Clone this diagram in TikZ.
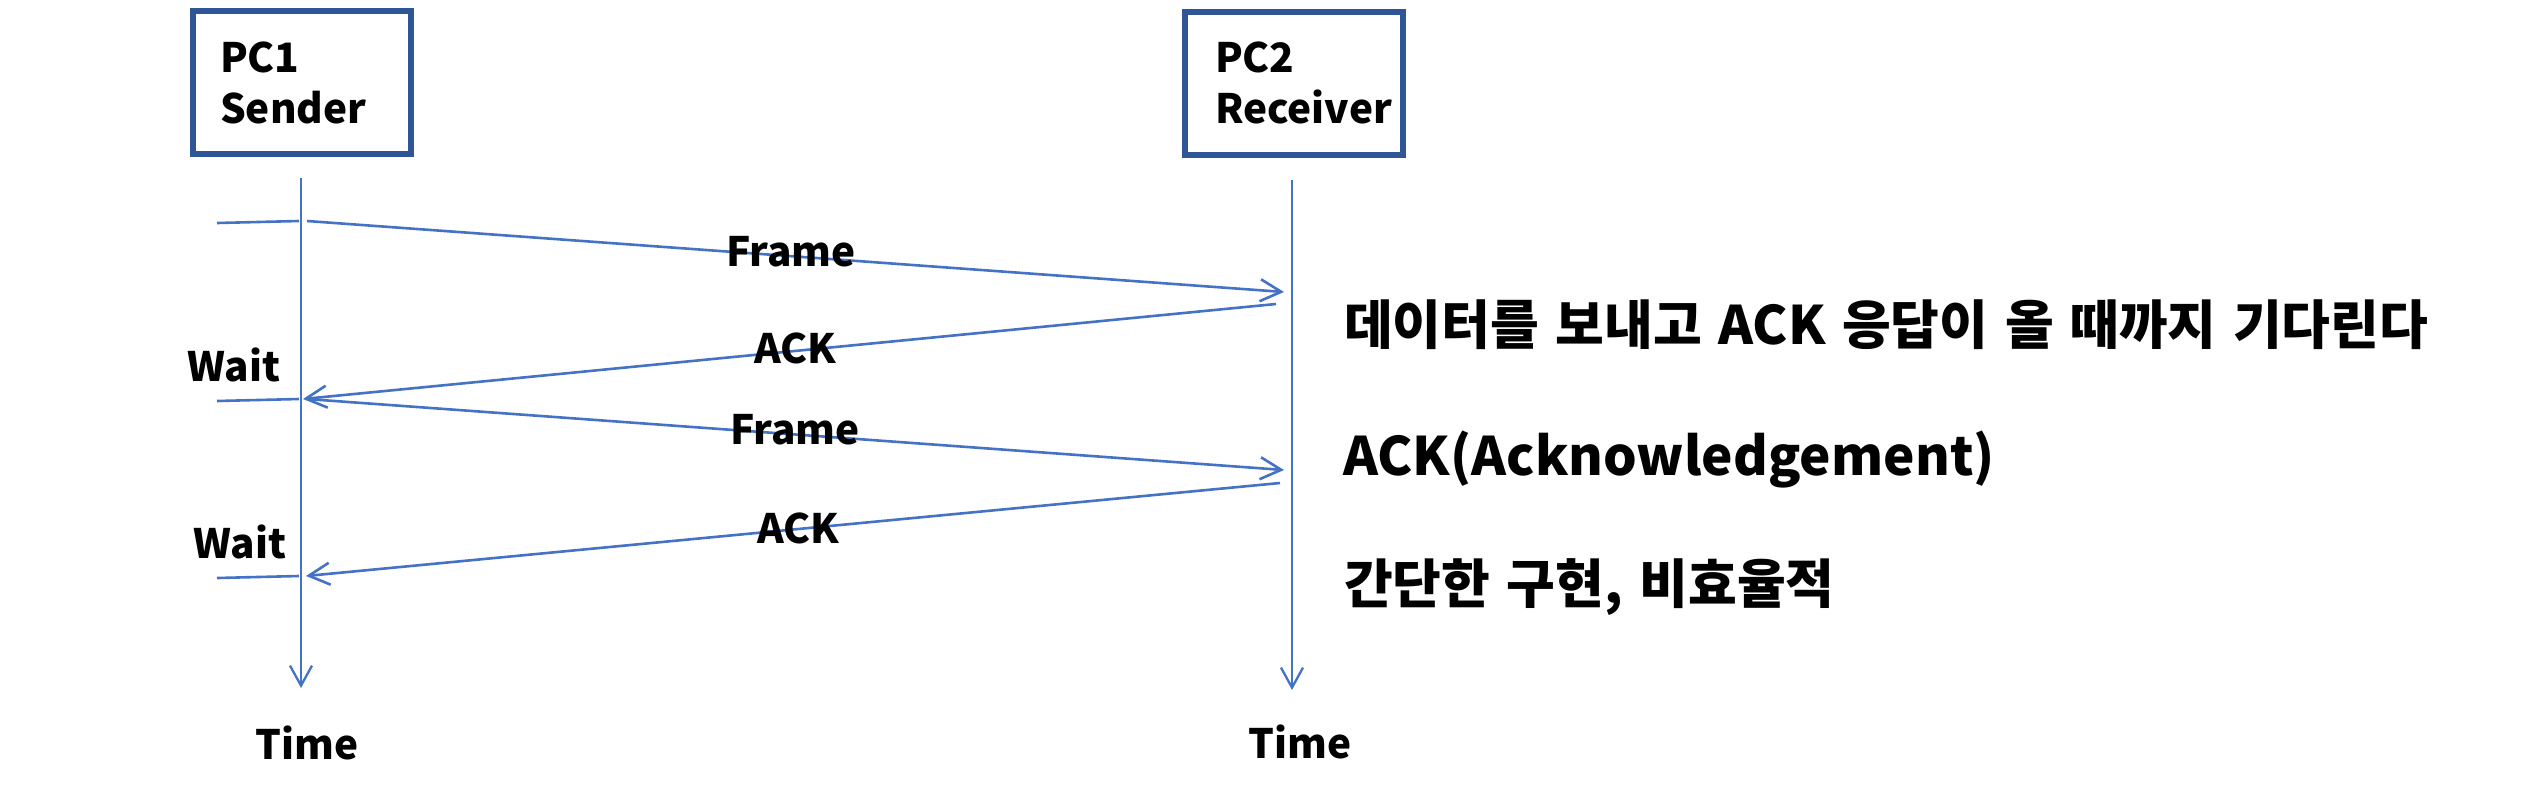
\documentclass[tikz,border=0pt]{standalone}
\usepackage{fontspec}
\setmainfont{Noto Sans CJK KR}
\usetikzlibrary{arrows.meta}
\definecolor{boxblue}{RGB}{47,85,151}
\definecolor{lineblue}{RGB}{68,114,196}
\newcommand{\widesp}{\spaceskip=16.5pt\relax}
\begin{document}
\begin{tikzpicture}[x=1pt,y=-1pt,
  every node/.style={font=\bfseries\fontsize{40.5}{51}\selectfont, inner sep=0pt, text=black},
  pcbox/.style={draw=boxblue, line width=6pt, minimum width=218pt, minimum height=143pt, align=left},
  msg/.style={draw=lineblue, line width=2.6pt, -{Straight Barb[length=21pt,width=22pt,line width=2.6pt]}},
  stub/.style={draw=lineblue, line width=2.6pt},
  life/.style={draw=lineblue, line width=2.3pt, -{Straight Barb[length=20pt,width=22pt,line width=2.3pt]}},
  lbl/.style={},
  note/.style={anchor=base west, font=\bfseries\fontsize{53}{60}\selectfont}
]
\useasboundingbox (0,0) rectangle (2538,788);
% boxes
\node[pcbox, text width=164pt] (pc1) at (302,82.5) {PC1\\Sender};
\node[pcbox, text width=158pt] (pc2) at (1294,83) {PC2\\Receiver};
% lifelines
\coordinate (l1top) at (301,178);
\coordinate (l1end) at (301,688);
\coordinate (l2top) at (1292,180);
\coordinate (l2end) at (1292,690);
\draw[life] (l1top) -- (l1end);
\draw[life] (l2top) -- (l2end);
\node[lbl] (t1) at (307,743) {Time};
\node[lbl] (t2) at (1300,742) {Time};
% stubs
\coordinate (s1a) at (217,223); \coordinate (s1b) at (299,221);
\coordinate (s2a) at (217,401); \coordinate (s2b) at (299,399);
\coordinate (s3a) at (217,578); \coordinate (s3b) at (299,576);
\draw[stub] (s1a) -- (s1b);
\draw[stub] (s2a) -- (s2b);
\draw[stub] (s3a) -- (s3b);
% messages
\coordinate (f1s) at (307,221); \coordinate (f1e) at (1284,292);
\coordinate (a1s) at (1276,304); \coordinate (a1e) at (303,399);
\coordinate (f2s) at (307,399); \coordinate (f2e) at (1284,470);
\coordinate (a2s) at (1280,483); \coordinate (a2e) at (306,576);
\draw[msg] (f1s) -- (f1e);
\draw[msg] (a1s) -- (a1e);
\draw[msg] (f2s) -- (f2e);
\draw[msg] (a2s) -- (a2e);
\node[lbl] (fl1) at (791,252) {Frame};
\node[lbl] (al1) at (795,348) {ACK};
\node[lbl] (fl2) at (795,430) {Frame};
\node[lbl] (al2) at (798,528) {ACK};
\node[lbl] (w1) at (234,365) {Wait};
\node[lbl] (w2) at (240,542) {Wait};
% notes
\node[note] (n1) at (1344,344) {\widesp 데이터를 보내고 ACK 응답이 올 때까지 기다린다};
\node[note] (n2) at (1343,475) {ACK(Acknowledgement)};
\node[note] (n3) at (1344,603) {\widesp 간단한 구현, 비효율적};
\end{tikzpicture}
\end{document}
